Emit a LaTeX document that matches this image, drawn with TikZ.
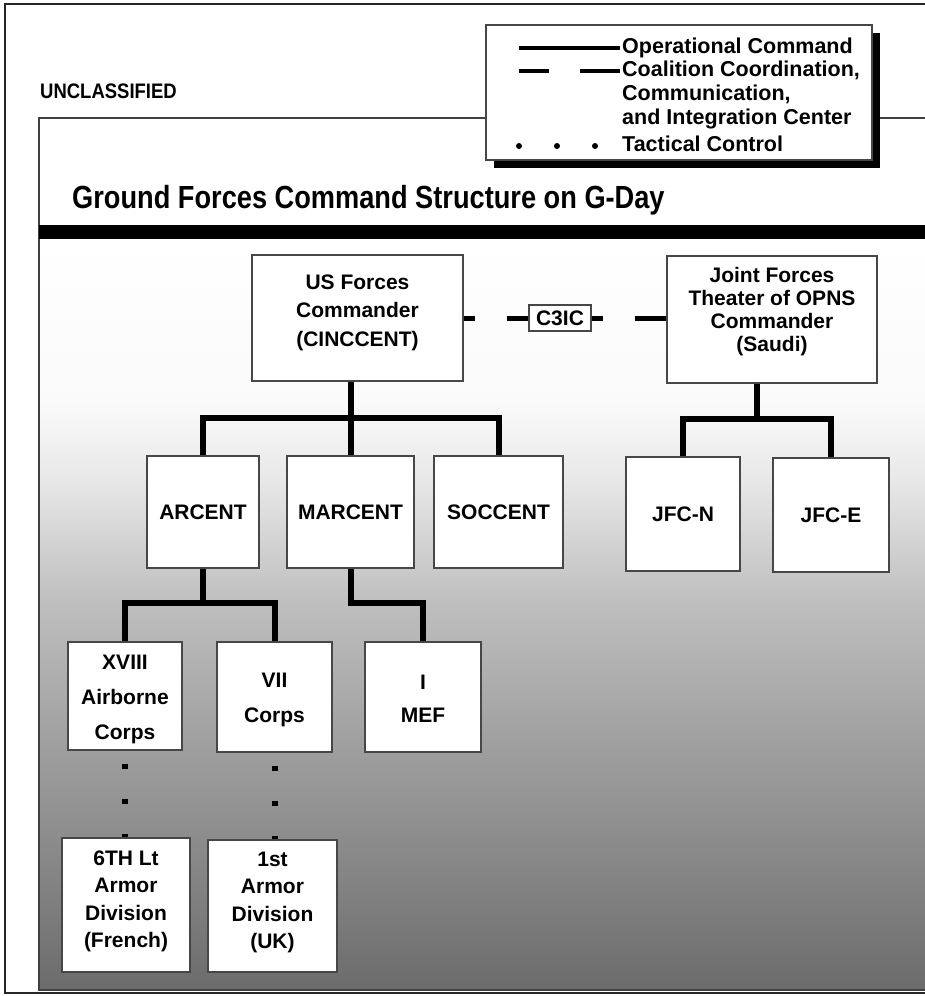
\documentclass[tikz,border=0pt]{standalone}
\usepackage{fontspec}
\usepackage{graphicx}
\setmainfont{Liberation Sans}
\usetikzlibrary{calc}
\pgfdeclareverticalshading{panelshade}{100bp}{color(0bp)=(black!58); color(25bp)=(black!58); color(31bp)=(black!50); color(41bp)=(black!38); color(51bp)=(black!25); color(59bp)=(black!9); color(64bp)=(black!2); color(75bp)=(white); color(100bp)=(white)}
\newcommand{\liftbox}[2]{\raisebox{#1}[\height][\depth]{\begin{tabular}{@{}c@{}}#2\end{tabular}}}
\tikzset{
  box/.style={draw=black!72, line width=1.4pt, fill=white, align=center, inner sep=0pt,
    font=\bfseries\fontsize{21}{25}\selectfont},
  conn/.style={line width=6pt, line join=miter},
  coal/.style={line width=5pt, dash pattern=on 11pt off 32pt on 100pt},
  tac/.style={line width=6pt, dash pattern=on 5pt off 30pt, dash phase=22pt},
  legtext/.style={anchor=west, inner sep=0pt, align=left, font=\bfseries\fontsize{21.5}{24}\selectfont}
}
\begin{document}
\begin{tikzpicture}[x=1pt,y=-1pt]
\useasboundingbox (0,0) rectangle (924,996);
\fill[white] (0,0) rectangle (924,996);
% outer frame
\draw[line width=2pt, black!85] (5,4) rectangle (934,993);
% panel
\shade[shading=panelshade] (39,239) rectangle (934,990);
\draw[line width=1.5pt, black!75] (39,118) rectangle (934,990);
\fill[black] (39,225) rectangle (934,239);
% header texts
\node[anchor=base west, inner sep=0pt] (uncl) at (40,98)
  {\scalebox{0.88}[1]{\bfseries\fontsize{21}{24}\selectfont UNCLASSIFIED}};
\node[anchor=base west, inner sep=0pt] (title) at (72,208)
  {\scalebox{0.85}[1]{\bfseries\fontsize{32}{36}\selectfont Ground Forces Command Structure on G-Day}};
% legend
\fill[black] (494,33) rectangle (880,168);
\node[draw=black!72, line width=1.5pt, fill=white, minimum width=386pt, minimum height=135pt, inner sep=0pt] (legend) at (679,92.5) {};
\draw[line width=4.5pt] (519,48) -- (620,48);
\draw[line width=4.5pt] (519,71) -- (549,71);
\draw[line width=4.5pt] (580,71) -- (620,71);
\fill (519,146) circle[radius=3pt];
\fill (557,146) circle[radius=3pt];
\fill (595,146) circle[radius=3pt];
\node[legtext] (l1) at (622,48) {Operational Command};
\node[legtext] (l2) at (622,95) {Coalition Coordination,\\Communication,\\and Integration Center};
\node[legtext] (l3) at (622,144) {Tactical Control};
% top level
\node[box, minimum width=211pt, minimum height=126pt, font=\bfseries\fontsize{21}{28.5}\selectfont] (us) at (357.5,318) {\liftbox{6pt}{US Forces\\Commander\\(CINCCENT)}};
\node[box, minimum width=62pt, minimum height=26pt] (c3ic) at (560,318) {C3IC};
\node[box, minimum width=210pt, minimum height=127pt, font=\bfseries\fontsize{21}{23}\selectfont] (jf) at (772,319.5) {\liftbox{7pt}{Joint Forces\\Theater of OPNS\\Commander\\(Saudi)}};
% second level
\node[box, minimum width=112pt, minimum height=112pt] (arcent) at (203,512) {ARCENT};
\node[box, minimum width=127pt, minimum height=112pt] (marcent) at (350.5,512) {MARCENT};
\node[box, minimum width=129pt, minimum height=112pt] (soccent) at (498.5,512) {SOCCENT};
\node[box, minimum width=114pt, minimum height=114pt] (jfcn) at (683,514) {JFC-N};
\node[box, minimum width=116pt, minimum height=114pt] (jfce) at (831,515) {JFC-E};
% third level
\node[box, minimum width=114pt, minimum height=108pt, font=\bfseries\fontsize{21}{35}\selectfont] (xviii) at (125,696) {\liftbox{-1pt}{XVIII\\Airborne\\Corps}};
\node[box, minimum width=115pt, minimum height=110pt, font=\bfseries\fontsize{21}{35}\selectfont] (vii) at (274.5,697) {\liftbox{-1pt}{VII\\Corps}};
\node[box, minimum width=116pt, minimum height=110pt, font=\bfseries\fontsize{21}{33}\selectfont] (imef) at (423,697) {\liftbox{-2pt}{I\\MEF}};
% fourth level
\node[box, minimum width=128pt, minimum height=134pt, font=\bfseries\fontsize{21}{27.5}\selectfont] (sixth) at (126,905) {\liftbox{4pt}{6TH Lt\\Armor\\Division\\(French)}};
\node[box, minimum width=129pt, minimum height=132pt, font=\bfseries\fontsize{21}{27.5}\selectfont] (first) at (272.5,906) {\liftbox{4pt}{1st\\Armor\\Division\\(UK)}};
% operational command
\draw[conn] (us.south -| marcent.north) -- (marcent.north);
\draw[conn] (arcent.north) -- ++(0,-37) -| (soccent.north);
\coordinate (jmid) at ($(jfcn.north)!0.5!(jfce.north)+(0,-37)$);
\draw[conn] (jfcn.north) -- ++(0,-37) -| (jfce.north);
\draw[conn] (jf.south -| jmid) -- (jmid);
\coordinate (amid) at ($(xviii.north)!0.5!(vii.north)+(0,-38)$);
\draw[conn] (xviii.north) -- ++(0,-38) -| (vii.north);
\draw[conn] (arcent.south) -- (arcent.south |- amid);
\draw[conn] (marcent.south) |- ($(imef.north)+(0,-38)$) -- (imef.north);
% coalition coordination
\draw[coal] (us.east |- c3ic.west) -- (c3ic.west);
\draw[coal] (c3ic.east) -- (jf.west |- c3ic.east);
% tactical control
\draw[tac] (xviii.south) -- (xviii.south |- sixth.north);
\draw[tac] (vii.south) -- (vii.south |- first.north);
\end{tikzpicture}
\end{document}
